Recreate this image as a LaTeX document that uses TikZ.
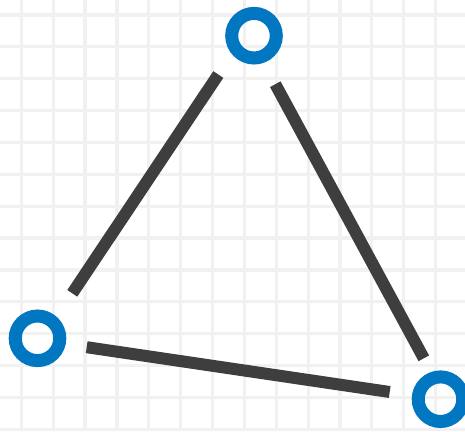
\documentclass[tikz,border=0pt]{standalone}
\usepackage{tikz}

\definecolor{ringblue}{RGB}{0,119,192}
\definecolor{edgegray}{RGB}{62,62,62}

\begin{document}
\begin{tikzpicture}
		[x=1pt,y=-1pt,
		gridline/.style={line width=3.2pt,gray!11},
		ring/.style={circle,draw=ringblue,line width=13pt,minimum size=44.6pt,inner sep=0pt},
		edge/.style={line width=12pt,edgegray}]
		
		\useasboundingbox (0,0) rectangle (465,431);
		\fill[white] (0,0) rectangle (465,431);
		
		% background grid
		\foreach \i in {0,...,13}
		{\draw[gridline] (21.3+31.87*\i,0) -- (21.3+31.87*\i,431);
		\draw[gridline] (0,15+31.87*\i) -- (465,15+31.87*\i);}
		
		\node[ring] (top) at (254,35.7) {};
		\node[ring] (left) at (37.5,338.3) {};
		\node[ring] (right) at (440.5,399.2) {};
		
		% edge ends, kept apart from the rings
		\coordinate (lt1) at (72.3,293.3);
		\coordinate (lt2) at (218.3,74.5);
		\coordinate (tr1) at (275.3,84.2);
		\coordinate (tr2) at (423.8,358.3);
		\coordinate (lr1) at (86.7,347.2);
		\coordinate (lr2) at (389.7,392);
		
		\draw[edge] (lt1) -- (lt2); % left -- top
		\draw[edge] (tr1) -- (tr2); % top -- right
		\draw[edge] (lr1) -- (lr2); % left -- right
		
\end{tikzpicture}
\end{document}
